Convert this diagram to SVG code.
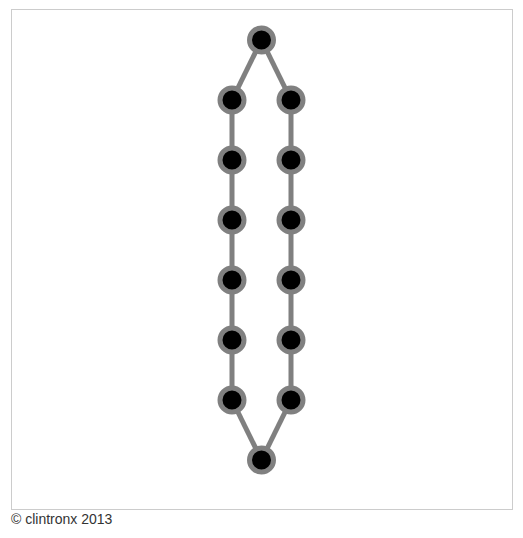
<svg xmlns="http://www.w3.org/2000/svg" width="523" height="538" viewBox="0 0 523 538">
<style>
.n{fill:#000;stroke:#808080;stroke-width:5}
.e{stroke:#808080;stroke-width:5;fill:none}
.t{font-family:"Liberation Sans",Arial,sans-serif;font-size:14px;fill:#333}
</style>
<rect x="0" y="0" width="523" height="538" fill="#fff"/>
<rect x="11.5" y="9.5" width="501" height="500" fill="none" stroke="#ccc" stroke-width="1"/>
<g id="edges">
<line class="e" x1="261.5" y1="40" x2="232" y2="100"/>
<line class="e" x1="261.5" y1="40" x2="291" y2="100"/>
<line class="e" x1="232" y1="100" x2="232" y2="400"/>
<line class="e" x1="291" y1="100" x2="291" y2="400"/>
<line class="e" x1="232" y1="400" x2="261.5" y2="460"/>
<line class="e" x1="291" y1="400" x2="261.5" y2="460"/>
</g>
<g id="n0"><circle class="n" cx="261.5" cy="40" r="12"/></g>
<g id="l1"><circle class="n" cx="232" cy="100" r="12"/></g>
<g id="l2"><circle class="n" cx="232" cy="160" r="12"/></g>
<g id="l3"><circle class="n" cx="232" cy="220" r="12"/></g>
<g id="l4"><circle class="n" cx="232" cy="280" r="12"/></g>
<g id="l5"><circle class="n" cx="232" cy="340" r="12"/></g>
<g id="l6"><circle class="n" cx="232" cy="400" r="12"/></g>
<g id="r1"><circle class="n" cx="291" cy="100" r="12"/></g>
<g id="r2"><circle class="n" cx="291" cy="160" r="12"/></g>
<g id="r3"><circle class="n" cx="291" cy="220" r="12"/></g>
<g id="r4"><circle class="n" cx="291" cy="280" r="12"/></g>
<g id="r5"><circle class="n" cx="291" cy="340" r="12"/></g>
<g id="r6"><circle class="n" cx="291" cy="400" r="12"/></g>
<g id="n13"><circle class="n" cx="261.5" cy="460" r="12"/></g>
<text class="t" x="11" y="524">© clintronx 2013</text>
</svg>
